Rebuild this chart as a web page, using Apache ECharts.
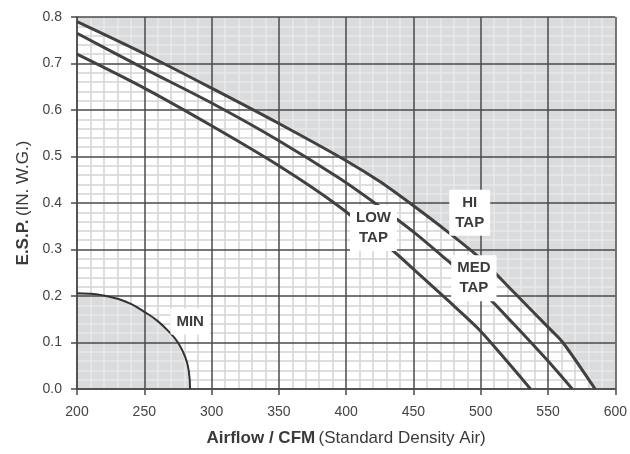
<!DOCTYPE html>
<html><head><meta charset="utf-8">
<script src="https://cdn.jsdelivr.net/npm/echarts@6/dist/echarts.min.js"></script>
<style>html,body{margin:0;padding:0;background:#fff}#c{width:630px;height:454px}</style>
</head><body><div id="c"></div>
<script>
// Axis ranges
const xRange = [200, 600];
const yRange = [0, 0.8];
const xStep = 50;
const yStep = 0.1;

// Fan curves (Airflow CFM vs E.S.P. in. W.G.)
const hiX  = [200, 250, 300, 350, 400, 425, 450, 475, 500, 525, 550, 561, 585];
const hiY  = [0.79, 0.721, 0.647, 0.571, 0.491, 0.446, 0.394, 0.339, 0.280, 0.207, 0.133, 0.100, 0];
const medX = [200, 250, 300, 350, 395, 425, 450, 475, 500, 525, 550, 568];
const medY = [0.765, 0.689, 0.615, 0.534, 0.453, 0.392, 0.338, 0.277, 0.213, 0.138, 0.060, 0];
const lowX = [200, 250, 300, 350, 395, 431, 450, 475, 498, 520, 537];
const lowY = [0.72, 0.647, 0.566, 0.480, 0.392, 0.307, 0.258, 0.192, 0.13, 0.058, 0];
// Minimum region boundary
const minX = [200, 210, 220, 230, 240, 250, 260, 270, 275, 280, 283, 284];
const minY = [0.206, 0.205, 0.201, 0.194, 0.183, 0.166, 0.146, 0.118, 0.100, 0.072, 0.040, 0];

// Curve labels
const labText = ['LOW\nTAP', 'HI\nTAP', 'MED\nTAP', 'MIN'];
const labX = [420.3, 491.8, 494.9, 284.1];
const labY = [0.346, 0.379, 0.238, 0.145];

const FONT = "'Liberation Sans', Arial, Helvetica, sans-serif";
const zip = (xs, ys) => xs.map((x, i) => [x, ys[i]]);
const SMOOTH = 0.3;

function baseX(z, extra) {
  return Object.assign({
    type: 'value', gridIndex: 0, min: xRange[0], max: xRange[1], interval: xStep, z: z,
    axisLine: {show: false}, axisTick: {show: false}, axisLabel: {show: false},
    splitLine: {show: false}, minorTick: {show: false, splitNumber: 5}, minorSplitLine: {show: false}
  }, extra);
}
function baseY(z, extra) {
  return Object.assign({
    type: 'value', gridIndex: 0, min: yRange[0], max: yRange[1], interval: yStep, z: z,
    axisLine: {show: false}, axisTick: {show: false}, axisLabel: {show: false},
    splitLine: {show: false}, minorTick: {show: false, splitNumber: 5}, minorSplitLine: {show: false}
  }, extra);
}

const chart = echarts.init(document.getElementById('c'));
const lineCol = '#414141';
const shade = '#dadbdc';
const tapLine = (name, xs, ys) => ({
  type: 'line', name: name, xAxisIndex: 2, yAxisIndex: 2, z: 4, silent: true,
  smooth: SMOOTH,
  data: zip(xs, ys), symbol: 'none',
  lineStyle: {color: lineCol, width: 3, join: 'round'}
});
const option = {
  animation: false,
  backgroundColor: '#ffffff',
  grid: {left: 77, right: 12, top: 17, bottom: 65, show: true, backgroundColor: '#ffffff', borderWidth: 0},
  xAxis: [
    baseX(0, {position: 'bottom', minorSplitLine: {show: true, lineStyle: {color: '#c2c2c2', width: 1.5}}}),
    baseX(2, {position: 'bottom', minorSplitLine: {show: true, lineStyle: {color: 'rgba(255,255,255,0.38)', width: 1.5}}}),
    baseX(3, {
      position: 'bottom',
      axisLine: {show: true, onZero: false, lineStyle: {color: '#4a4a4a', width: 1.5}},
      axisTick: {show: true, length: 6, lineStyle: {color: '#4a4a4a', width: 1.5}},
      axisLabel: {show: true, margin: 16, fontSize: 14, color: '#444', fontFamily: FONT},
      splitLine: {show: true, lineStyle: {color: '#4a4a4a', width: 1.5}},
      name: '{b|Airflow / CFM} {n|(Standard Density Air)}',
      nameLocation: 'middle', nameGap: 41,
      nameTextStyle: {
        fontFamily: FONT, color: '#3a3a3a',
        rich: {b: {fontWeight: 'bold', fontSize: 17, fontFamily: FONT, color: '#3a3a3a'},
               n: {fontSize: 17, fontFamily: FONT, color: '#3a3a3a'}}
      }
    })
  ],
  yAxis: [
    baseY(0, {position: 'left', minorSplitLine: {show: true, lineStyle: {color: '#c2c2c2', width: 1.5}}}),
    baseY(2, {position: 'left', minorSplitLine: {show: true, lineStyle: {color: 'rgba(255,255,255,0.38)', width: 1.5}}}),
    baseY(3, {
      position: 'left',
      axisLine: {show: true, onZero: false, lineStyle: {color: '#4a4a4a', width: 1.5}},
      axisTick: {show: true, length: 6, lineStyle: {color: '#4a4a4a', width: 1.5}},
      axisLabel: {show: true, margin: 15, fontSize: 14, color: '#444', fontFamily: FONT,
                  formatter: v => v.toFixed(1)},
      splitLine: {show: true, lineStyle: {color: '#4a4a4a', width: 1.5}},
      name: '{b|E.S.P.} {n|(IN. W.G.)}',
      nameLocation: 'middle', nameGap: 44, nameRotate: 90,
      nameTextStyle: {
        fontFamily: FONT, color: '#3a3a3a',
        rich: {b: {fontWeight: 'bold', fontSize: 17, fontFamily: FONT, color: '#3a3a3a'},
               n: {fontSize: 17, fontFamily: FONT, color: '#3a3a3a'}}
      }
    })
  ],
  series: [
    { // shaded region above HI curve
      type: 'line', xAxisIndex: 2, yAxisIndex: 2, z: 1, silent: true,
      smooth: SMOOTH,
      data: zip(hiX, hiY),
      showSymbol: false, symbol: 'none', lineStyle: {width: 0, opacity: 0},
      areaStyle: {color: shade, opacity: 1, origin: 'end'},
      markArea: {
        silent: true, itemStyle: {color: shade, opacity: 1, borderWidth: 0},
        data: [[{xAxis: hiX[hiX.length - 1]}, {xAxis: xRange[1]}]]
      }
    },
    { // shaded MIN region
      type: 'line', xAxisIndex: 2, yAxisIndex: 2, z: 1, silent: true, smooth: true,
      data: zip(minX, minY),
      showSymbol: false, symbol: 'none', lineStyle: {width: 0, opacity: 0},
      areaStyle: {color: shade, opacity: 1, origin: 'start'}
    },
    {
      type: 'line', name: 'MIN', xAxisIndex: 2, yAxisIndex: 2, z: 4, silent: true, smooth: true,
      data: zip(minX, minY), symbol: 'none',
      lineStyle: {color: '#333', width: 2}
    },
    tapLine('HI', hiX, hiY),
    tapLine('MED', medX, medY),
    tapLine('LOW', lowX, lowY),
    {
      type: 'scatter', xAxisIndex: 2, yAxisIndex: 2, z: 6, silent: true,
      data: zip(labX, labY), symbolSize: 0,
      itemStyle: {opacity: 1},
      label: {
        show: true, position: 'inside', formatter: p => labText[p.dataIndex],
        backgroundColor: '#ffffff', padding: [3, 6], fontFamily: FONT, opacity: 1,
        fontWeight: 'bold', fontSize: 15, lineHeight: 20, color: '#3c3c3c', align: 'center'
      }
    }
  ]
};
chart.setOption(option);
</script>
</body></html>
